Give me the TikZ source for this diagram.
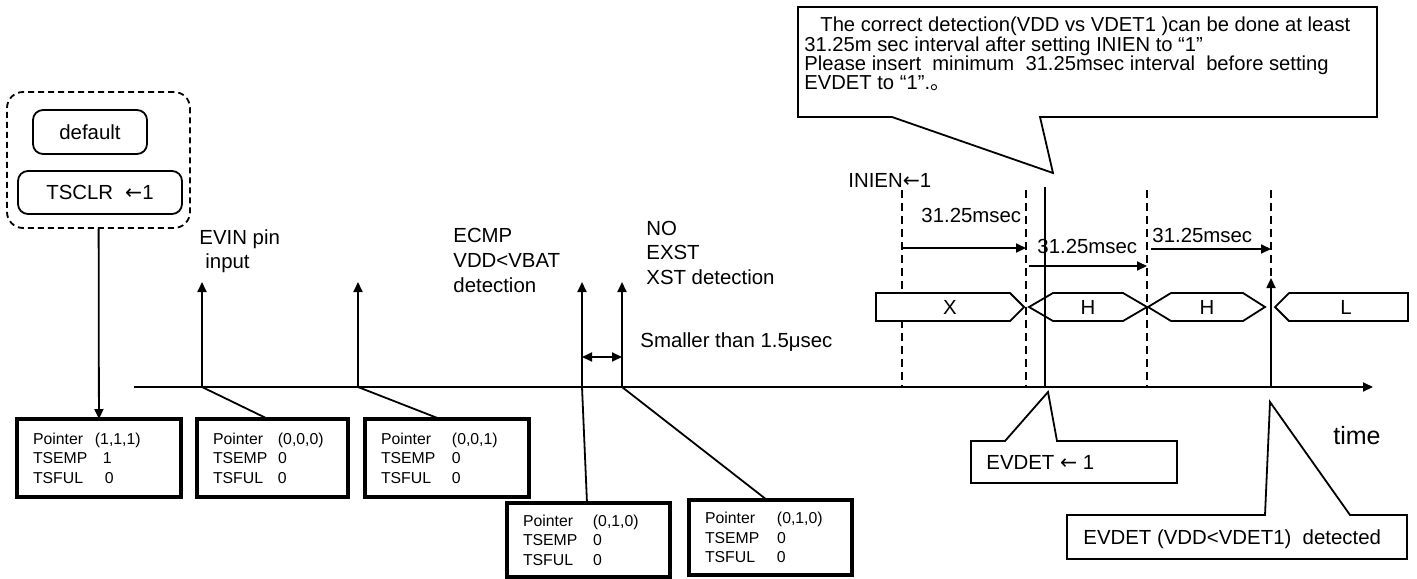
\documentclass[tikz,border=0pt]{standalone}
\usepackage{fontspec}
\setmainfont{Liberation Sans}
\newfontfamily\cjk{Noto Sans CJK SC}
\newfontfamily\arrowfont{DejaVu Sans}
\usepackage{tikz}
\usetikzlibrary{arrows.meta,positioning}
\tikzset{
	arrow/.style={-{Triangle[length=5pt,width=4.5pt]}, line width=0.9pt},
	dblarrow/.style={{Triangle[length=5pt,width=4.5pt]}-{Triangle[length=5pt,width=4.5pt]}, line width=0.9pt},
	plainline/.style={line width=0.9pt},
	guide/.style={dash pattern=on 4pt off 2.5pt, line width=0.9pt},
	regbox/.style={draw, line width=2pt, outer sep=0pt, inner xsep=8pt, inner ysep=0pt,
		anchor=north west, align=left, minimum height=39pt,
		font=\fontsize{7.9}{9.75}\selectfont},
	roundbox/.style={draw, rounded corners=5pt, line width=0.9pt, align=center},
	busbox/.style={draw, fill=white, line width=0.9pt},
	callout/.style={draw, fill=white, line width=0.9pt}
}
\newcommand{\regline}[3]{\makebox[#1][l]{#2}#3}
\newcommand{\larr}{{\arrowfont ←}}

\begin{document}
\begin{tikzpicture}[
	x=0.5pt, y=-0.5pt,
	annot/.style={font=\fontsize{10.2}{12}\selectfont, inner sep=0pt, align=left},
	]
	\useasboundingbox (0,0) rectangle (1417,578);
	\fill[white] (0,0) rectangle (1417,578);
	
	%% ── Reset group ─────────────────────────────────────────────────
	\node[draw, dash pattern=on 3pt off 2pt, rounded corners=8pt, line width=0.9pt,
	minimum width=91.5pt, minimum height=68pt] (grp) at (98.5,160) {};
	\node[roundbox, annot, inner sep=0pt, minimum width=57pt, minimum height=22pt]
	(dflt) at (90,132) {default};
	\node[roundbox, annot, inner sep=0pt, minimum width=82pt, minimum height=21.5pt]
	(tsclr) at (100,192.5) {TSCLR\hspace{6pt}\larr1};
	
	%% ── Register boxes ──────────────────────────────────────────────
	\node[regbox, text width=66pt] (p1) at (17,419)
	{\regline{31pt}{Pointer}{(1,1,1)}\\\regline{35pt}{TSEMP}{1}\\\regline{36pt}{TSFUL}{0}};
	\node[regbox, text width=59.5pt] (p2) at (197,419)
	{\regline{32.5pt}{Pointer}{(0,0,0)}\\\regline{32.5pt}{TSEMP}{0}\\\regline{32.5pt}{TSFUL}{0}};
	\node[regbox, text width=66pt] (p3) at (365,419)
	{\regline{35.5pt}{Pointer}{(0,0,1)}\\\regline{35.5pt}{TSEMP}{0}\\\regline{35.5pt}{TSFUL}{0}};
	\node[regbox, text width=65.5pt, minimum height=37pt] (p4) at (507,503)
	{\regline{35pt}{Pointer}{(0,1,0)}\\\regline{35pt}{TSEMP}{0}\\\regline{35pt}{TSFUL}{0}};
	\node[regbox, text width=65.5pt, minimum height=37.5pt] (p5) at (689,500)
	{\regline{36pt}{Pointer}{(0,1,0)}\\\regline{36pt}{TSEMP}{0}\\\regline{36pt}{TSFUL}{0}};
	
	%% ── Time axis and events ────────────────────────────────────────
	\coordinate (t0) at (134,387);
	\coordinate (t1) at (1373,387);
	\coordinate (ev) at (202,387);    \coordinate (evtop) at (202,282);
	\coordinate (ev2) at (358,387);   \coordinate (ev2top) at (358,282);
	\coordinate (ecmp) at (582,387);  \coordinate (ecmptop) at (582,282);
	\coordinate (xst) at (622,387);   \coordinate (xsttop) at (622,282);
	\coordinate (det) at (1271,387);  \coordinate (dettop) at (1271,278);
	\coordinate (evdet) at (1045,387); \coordinate (evdettop) at (1045,187);
	
	\draw[arrow] (t0) -- (t1);
	\draw[arrow] (grp) -- (p1);
	\draw[arrow] (ev) -- (evtop);
	\draw[arrow] (ev2) -- (ev2top);
	\draw[arrow] (ecmp) -- (ecmptop);
	\draw[arrow] (xst) -- (xsttop);
	
	\draw[plainline] (ev) -- ([xshift=35.5pt]p2.north west);
	\draw[plainline] (ev2) -- ([xshift=37.5pt]p3.north west);
	\draw[plainline] (ecmp) -- ([xshift=40pt]p4.north west);
	\draw[plainline] (xst) -- ([xshift=39pt]p5.north west);
	
	\coordinate (gapl) at (582,357);
	\coordinate (gapr) at (622,357);
	\draw[dblarrow] (gapl) -- (gapr);
	
	\node[annot, anchor=west] (evin) at (199,251.5) {EVIN pin\\\hspace*{3pt}input};
	\node[annot, anchor=west, font=\fontsize{10.2}{12.5}\selectfont] (ecmptxt) at (453,260)
	{ECMP\\VDD<VBAT\\detection};
	\node[annot, anchor=west, font=\fontsize{10.2}{12.25}\selectfont] (xsttxt) at (646,252.5)
	{NO\\EXST\\XST detection};
	\node[annot, anchor=base west] (gaptxt) at (640,347) {Smaller than 1.5μsec};
	
	%% ── Interval guides ─────────────────────────────────────────────
	\foreach \gx in {902,1026,1147,1271}
	\draw[guide] (\gx,190) -- (\gx,387);
	
	\node[annot, anchor=base west] (inien) at (848,187) {INIEN\larr1};
	
	\draw[arrow] (902,248) -- (1026,248);
	\draw[arrow] (1029,266) -- (1147,266);
	\draw[arrow] (1151,249) -- (1271,249);
	\node[annot, anchor=base west] (int1) at (921,222) {31.25msec};
	\node[annot, anchor=base west] (int2) at (1037,253) {31.25msec};
	\node[annot, anchor=base west] (int3) at (1152,242) {31.25msec};
	
	%% ── Bus states ──────────────────────────────────────────────────
	\draw[busbox] (876,293) -- (1010,293) -- (1024,307) -- (1010,321) -- (876,321) -- cycle;
	\draw[busbox] (1029,307) -- (1053,293) -- (1123,293) -- (1147,307) -- (1123,321) -- (1053,321) -- cycle;
	\draw[busbox] (1148,307) -- (1171,293) -- (1243,293) -- (1265,307) -- (1243,321) -- (1171,321) -- cycle;
	\draw[busbox] (1275,307) -- (1289,293) -- (1408,293) -- (1408,321) -- (1289,321) -- cycle;
	\node[annot] (busx) at (950,307) {X};
	\node[annot] (bush1) at (1088,307) {H};
	\node[annot] (bush2) at (1207,307) {H};
	\node[annot] (busl) at (1346,307) {L};
	
	\draw[plainline] (evdet) -- (evdettop);
	\draw[arrow] (det) -- (dettop);
	
	%% ── Callouts ────────────────────────────────────────────────────
	\draw[callout] (798,7) -- (1377,7) -- (1377,117) -- (1040,117) -- (1053,173)
	-- (892,117) -- (798,117) -- cycle;
	\node[annot, anchor=west, font=\fontsize{10.1}{9.65}\selectfont] (note) at (804,54)
	{\hspace*{8pt}The correct detection(VDD vs VDET1 )can be done at least\\
		31.25m sec interval after setting INIEN to “1”\\
		Please insert\ \ minimum\ \ 31.25msec interval\ \ before setting\\
		EVDET to “1”.{\cjk 。}};
	
	\draw[callout] (971,441) -- (1005,441) -- (1048,392) -- (1057,441) -- (1177,441)
	-- (1177,483) -- (971,483) -- cycle;
	\node[annot, anchor=base west] (setdet) at (986,469) {EVDET \larr\ 1};
	
	\draw[callout] (1067,515) -- (1265,515) -- (1270,402) -- (1350,515) -- (1407,515)
	-- (1407,559) -- (1067,559) -- cycle;
	\node[annot, anchor=base west] (detected) at (1083,544) {EVDET (VDD<VDET1)\ \ detected};
	
	\node[annot, anchor=base west, font=\fontsize{12.5}{14}\selectfont] (time) at (1333,444) {time};
\end{tikzpicture}
\end{document}
